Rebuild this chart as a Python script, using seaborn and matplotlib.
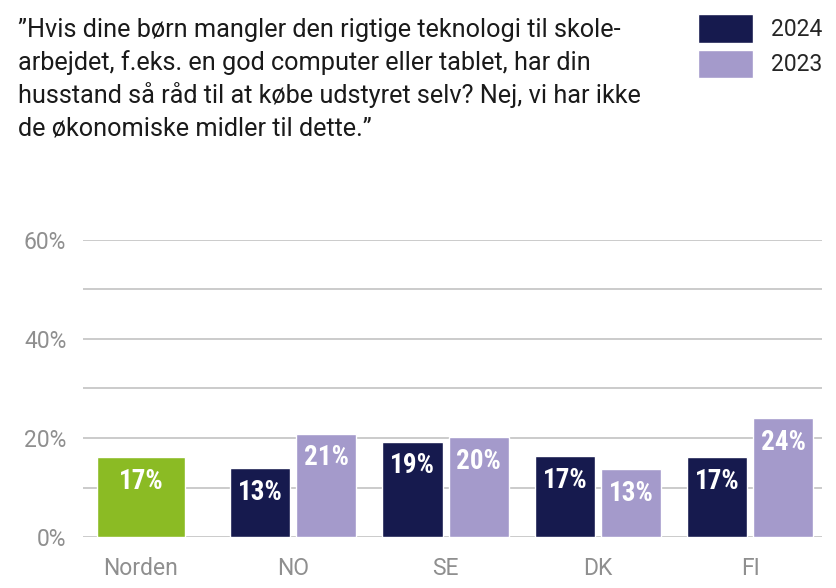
import pandas as pd
import numpy as np
import matplotlib.pyplot as plt
import seaborn as sns

# data
countries = ["NO", "SE", "DK", "FI"]
years = ["2024", "2023"]
share_2024 = [13.9, 19.3, 16.4, 16.2]
share_2023 = [20.9, 20.2, 13.8, 24.1]
labels_2024 = ["13%", "19%", "17%", "17%"]
labels_2023 = ["21%", "20%", "13%", "24%"]
norden_share = [16.2]
norden_label = ["17%"]
categories = ["Norden"] + countries
y_ticks = [0, 10, 20, 30, 40, 50, 60]
y_ticklabels = ["0%", "", "20%", "", "40%", "", "60%"]

title_lines = [
    "\u201dHvis dine børn mangler den rigtige teknologi til skole-",
    "arbejdet, f.eks. en god computer eller tablet, har din",
    "husstand så råd til at købe udstyret selv? Nej, vi har ikke",
    "de økonomiske midler til dette.\u201d",
]

navy = "#161a4e"
lavender = "#a49acb"
green = "#8bbb24"
grey_txt = "#8f8f8f"

df = pd.DataFrame({
    "land": countries * 2,
    "aar": ["2024"] * 4 + ["2023"] * 4,
    "andel": share_2024 + share_2023,
})
df_norden = pd.DataFrame({"land": ["Norden"], "andel": norden_share})

sns.set_style("white")
plt.rcParams["font.family"] = ["Roboto", "DejaVu Sans"]

fig = plt.figure(figsize=(8.36, 5.88), dpi=100)
ax = fig.add_axes([0.0993, 0.0862, 0.8837, 0.5063])

sns.barplot(data=df, x="land", y="andel", hue="aar", order=categories,
            hue_order=years, palette=[navy, lavender], width=0.868, gap=0.09,
            saturation=1, errorbar=None, ax=ax)
sns.barplot(data=df_norden, x="land", y="andel", order=categories,
            color=green, width=0.58, saturation=1, errorbar=None, ax=ax)

# value labels inside the top of each bar
label_map = {}
for i, c in enumerate(countries):
    label_map[(c, "2024")] = labels_2024[i]
    label_map[(c, "2023")] = labels_2023[i]
for bar in ax.patches:
    h = bar.get_height()
    if h == 0 or np.isnan(h):
        continue
    xc = bar.get_x() + bar.get_width() / 2
    idx = int(round(xc))
    if idx == 0:
        txt = norden_label[0]
    else:
        yr = "2024" if xc < idx else "2023"
        txt = label_map[(categories[idx], yr)]
    ax.annotate(txt, (xc, h), xytext=(0, -17.5), textcoords="offset points",
                ha="center", va="center", color="white", fontsize=19.5,
                fontweight="bold", family=["Roboto Condensed", "DejaVu Sans"])

ax.set_ylim(0, 60)
ax.set_xlim(-0.38, 4.47)
ax.set_yticks(y_ticks)
ax.set_yticklabels(y_ticklabels)
ax.yaxis.grid(True, color="#bdbdbd", linewidth=1.1)
ax.set_axisbelow(True)
sns.despine(ax=ax, left=True, bottom=True)
ax.tick_params(axis="both", length=0, labelsize=16.5, labelcolor=grey_txt)
ax.tick_params(axis="y", pad=12)
ax.tick_params(axis="x", pad=14)
ax.set_xlabel("")
ax.set_ylabel("")

handles, lbls = ax.get_legend_handles_labels()
ax.legend(handles, lbls, loc="upper left", bbox_to_anchor=(698 / 836, 1 - 14 / 588),
          bbox_transform=fig.transFigure, frameon=False, fontsize=16.5,
          handlelength=2.4, handleheight=1.55, labelspacing=0.3,
          handletextpad=0.78, borderpad=0, borderaxespad=0)

for k, line in enumerate(title_lines):
    fig.text(18 / 836, 1 - (30 + 32.7 * k) / 588, line, ha="left", va="center",
             fontsize=18.2, color="#1a1a1a")

fig.savefig("out.png", dpi=100)
